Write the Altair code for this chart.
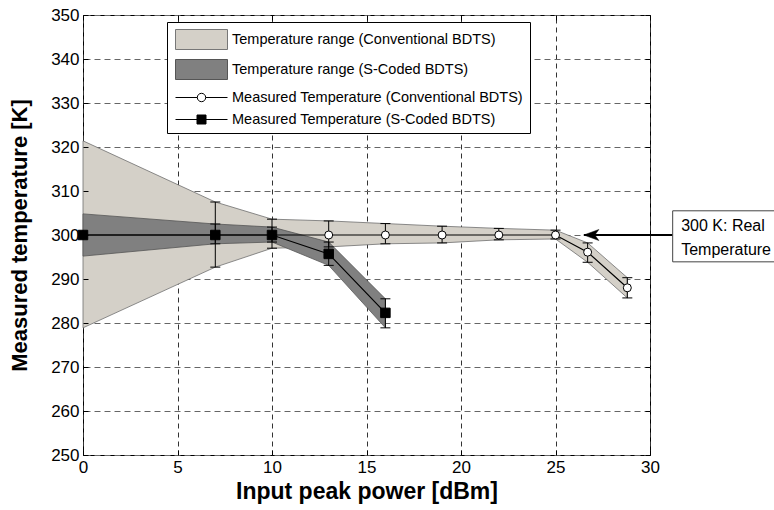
import altair as alt
import pandas as pd

# ---------------- data ----------------
x_conv = [0, 7, 10, 13, 16, 19, 22, 25, 26.7, 28.8]
conv_mean = [300, 300, 300, 300, 300, 300, 300, 300, 296.1, 288.0]
conv_upper = [321.4, 307.5, 303.6, 303.2, 302.6, 302.0, 301.5, 301.1, 298.2, 290.3]
conv_lower = [278.9, 292.7, 297.0, 297.3, 298.0, 298.2, 298.9, 299.1, 293.8, 285.7]

x_sc = [0, 7, 10, 13, 16]
sc_mean = [300, 300, 300, 295.7, 282.3]
sc_upper = [304.8, 302.5, 301.8, 298.4, 285.5]
sc_lower = [295.2, 298.0, 298.4, 293.1, 278.9]

x_ticks = [0, 5, 10, 15, 20, 25, 30]
y_ticks = [250, 260, 270, 280, 290, 300, 310, 320, 330, 340, 350]

legend_labels = [
    "Temperature range (Conventional BDTS)",
    "Temperature range (S-Coded BDTS)",
    "Measured Temperature (Conventional BDTS)",
    "Measured Temperature (S-Coded BDTS)",
]

real_temp = [300]
annot_lines = ["300 K: Real", "Temperature"]

# ---------------- styling ----------------
FONT = "Liberation Sans"
LIGHT = "#d4d0c8"
DARK = "#808080"

SWATCH = "M-2.6,-1.0H2.6V1.0H-2.6Z"
LINE_CIRCLE = ("M-2.6,0H-0.42M0.42,0H2.6M0.42,0A0.42,0.42,0,1,1,-0.42,0"
               "A0.42,0.42,0,1,1,0.42,0Z")
LINE_SQUARE = "M-2.6,0H2.6M-0.45,-0.45H0.45V0.45H-0.45Z"
ARROW = "M0,0L3,-1.1L2.2,0L3,1.1Z"

conv = pd.DataFrame({"x": x_conv, "mean": conv_mean, "hi": conv_upper, "lo": conv_lower})
sc = pd.DataFrame({"x": x_sc, "mean": sc_mean, "hi": sc_upper, "lo": sc_lower})

xs = alt.Scale(domain=[0, 30], nice=False, zero=False)
ys = alt.Scale(domain=[250, 350], nice=False, zero=False)

ax_bottom = alt.Axis(orient="bottom", values=x_ticks, offset=-5, tickSize=5, tickColor="black",
                     grid=False, domain=False, labelPadding=4, labelFontSize=17, labelFlush=False,
                     labelOverlap=False, labelColor="black", format="d",
                     title="Input peak power [dBm]", titleFontSize=23, titleFontWeight="bold",
                     titleColor="black", titlePadding=5, zindex=1)
ax_left = alt.Axis(orient="left", values=y_ticks, offset=-5, tickSize=5, tickColor="black",
                   grid=False, domain=False, labelPadding=4, labelFontSize=17, labelFlush=False,
                   labelOverlap=False, labelColor="black", format="d",
                   title="Measured temperature [K]", titleFontSize=22, titleFontWeight="bold",
                   titleColor="black", titlePadding=19, zindex=1)
ax_top = alt.Axis(orient="top", values=x_ticks, offset=-5, tickSize=5, tickColor="black",
                  labels=False, domain=False, title=None, grid=True, gridColor="#333333",
                  gridDash=[5, 4], gridWidth=1, zindex=0)
ax_right = alt.Axis(orient="right", values=y_ticks, offset=-5, tickSize=5, tickColor="black",
                    labels=False, domain=False, title=None, grid=True, gridColor="#666666",
                    gridDash=[6, 4], gridWidth=1, zindex=0)

bc = alt.Chart(conv)
bs = alt.Chart(sc)

light_band = bc.mark_area(color=LIGHT, stroke="#6f6f6f", strokeWidth=0.8, opacity=1).encode(
    x=alt.X("x:Q", scale=xs, axis=ax_bottom),
    y=alt.Y("lo:Q", scale=ys, axis=ax_left),
    y2="hi:Q",
)
dark_band = bs.mark_area(color=DARK, stroke="#555555", strokeWidth=0.8, opacity=1).encode(
    x=alt.X("x:Q", scale=xs, axis=ax_top),
    y=alt.Y("lo:Q", scale=ys, axis=ax_right),
    y2="hi:Q",
)


def errorbars(base):
    b = base.transform_filter("datum.x > 0")
    rule = b.mark_rule(color="black", strokeWidth=1).encode(
        x=alt.X("x:Q", scale=xs, axis=None), y=alt.Y("lo:Q", scale=ys, axis=None), y2="hi:Q")
    cap_hi = b.mark_tick(orient="horizontal", size=10, thickness=1, color="black", opacity=1).encode(
        x=alt.X("x:Q", scale=xs, axis=None), y=alt.Y("hi:Q", scale=ys, axis=None))
    cap_lo = b.mark_tick(orient="horizontal", size=10, thickness=1, color="black", opacity=1).encode(
        x=alt.X("x:Q", scale=xs, axis=None), y=alt.Y("lo:Q", scale=ys, axis=None))
    return [rule, cap_hi, cap_lo]


conv_line = bc.mark_line(color="black", strokeWidth=1.2).encode(
    x=alt.X("x:Q", scale=xs, axis=None), y=alt.Y("mean:Q", scale=ys, axis=None))
conv_pts = bc.mark_point(shape="circle", filled=True, fill="white", stroke="black",
                         strokeWidth=1, size=64, opacity=1).encode(
    x=alt.X("x:Q", scale=xs, axis=None), y=alt.Y("mean:Q", scale=ys, axis=None))
sc_line = bs.mark_line(color="black", strokeWidth=1.2).encode(
    x=alt.X("x:Q", scale=xs, axis=None), y=alt.Y("mean:Q", scale=ys, axis=None))
sc_pts = bs.mark_point(shape="square", filled=True, fill="black", stroke="black",
                       strokeWidth=1, size=90, opacity=1).encode(
    x=alt.X("x:Q", scale=xs, axis=None), y=alt.Y("mean:Q", scale=ys, axis=None))

# ---------------- annotation: "300 K: Real Temperature" ----------------
ann = pd.DataFrame({"t": real_temp, "x_tip": [26.5], "x_box": [31.2], "x_end": [37.0],
                    "y_top": [305.5], "y_bot": [293.9]})
ba = alt.Chart(ann)
arrow_shaft = ba.mark_rule(color="black", strokeWidth=2).encode(
    x=alt.X("x_tip:Q", scale=xs, axis=None), x2="x_box:Q", y=alt.Y("t:Q", scale=ys, axis=None))
arrow_head = ba.mark_point(shape=ARROW, size=100, filled=True, fill="black", stroke="black",
                           strokeWidth=0.5, opacity=1).encode(
    x=alt.X("x_tip:Q", scale=xs, axis=None), y=alt.Y("t:Q", scale=ys, axis=None))
box = ba.mark_rect(fill="white", stroke="#444444", strokeWidth=1).encode(
    x=alt.X("x_box:Q", scale=xs, axis=None), x2="x_end:Q",
    y=alt.Y("y_top:Q", scale=ys, axis=None), y2="y_bot:Q")
txt_df = pd.DataFrame({"label": annot_lines, "x": [31.65, 31.65], "y": [302.1, 296.7]})
box_text = alt.Chart(txt_df).mark_text(align="left", baseline="middle", fontSize=16,
                                       font=FONT, color="black").encode(
    x=alt.X("x:Q", scale=xs, axis=None), y=alt.Y("y:Q", scale=ys, axis=None), text="label:N")

# ---------------- legend (driven by an invisible layer) ----------------
leg = alt.Legend(title=None, orient="none", legendX=84, legendY=7, symbolSize=400,
                 symbolOffset=17, labelOffset=20, labelFontSize=14.5, labelFont=FONT,
                 labelColor="black", labelLimit=500, strokeColor="black", fillColor="white",
                 padding=7, rowPadding=5, symbolStrokeWidth=1, symbolOpacity=1)
legend_layer = alt.Chart(pd.DataFrame({"series": legend_labels})).mark_point(
    size=0, filled=True, opacity=1, strokeWidth=1).encode(
    x=alt.value(0), y=alt.value(0),
    shape=alt.Shape("series:N", scale=alt.Scale(domain=legend_labels,
                    range=[SWATCH, SWATCH, LINE_CIRCLE, LINE_SQUARE]), legend=leg),
    fill=alt.Fill("series:N", scale=alt.Scale(domain=legend_labels,
                  range=[LIGHT, DARK, "white", "black"]), legend=leg),
    stroke=alt.Stroke("series:N", scale=alt.Scale(domain=legend_labels,
                      range=["#777777", "#555555", "black", "black"]), legend=leg),
)

layers = [light_band, dark_band] + errorbars(bc) + errorbars(bs) + [
    conv_line, conv_pts, sc_line, sc_pts,
    arrow_shaft, arrow_head, box, box_text, legend_layer]

chart = alt.layer(*layers).properties(
    width=567, height=440,
    autosize=alt.AutoSizeParams(type="none"),
    padding={"left": 83, "top": 15, "right": 124, "bottom": 55},
).configure(font=FONT).configure_view(stroke="black", strokeWidth=1)

chart.save("out.html", embed_options={"renderer": "svg", "actions": False})
